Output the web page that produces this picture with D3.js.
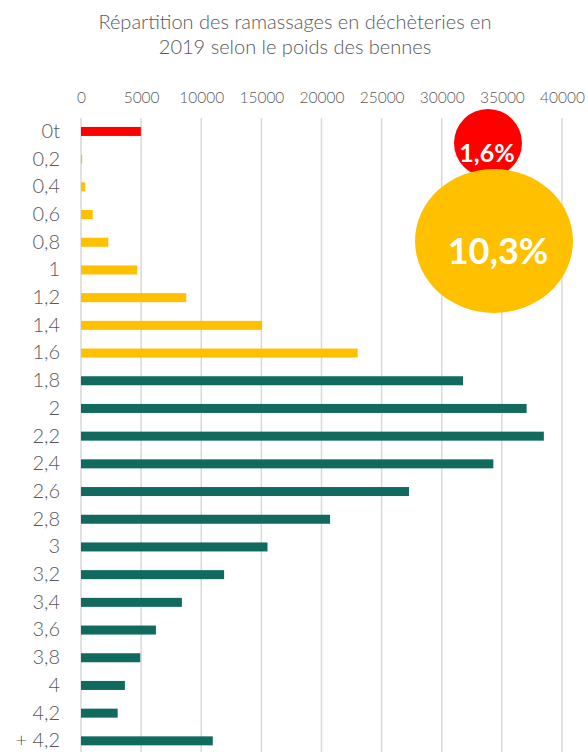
<!DOCTYPE html>
<html>
<head>
<meta charset="utf-8">
<script src="https://cdn.jsdelivr.net/npm/d3@7"></script>
<style>
  html, body { margin: 0; padding: 0; background: #fff; }
  svg { display: block; }
  text { font-family: 'Lato', 'Noto Sans', sans-serif; }
</style>
</head>
<body>
<div id="chart"></div>
<script>
// --- Data ---
const categories = ['0t', '0,2', '0,4', '0,6', '0,8', '1', '1,2', '1,4', '1,6', '1,8', '2', '2,2',
    '2,4', '2,6', '2,8', '3', '3,2', '3,4', '3,6', '3,8', '4', '4,2', '+ 4,2'];
const values = [4980, 100, 360, 970, 2270, 4680, 8750, 15060, 23010, 31770, 37060, 38490,
    34290, 27280, 20710, 15510, 11900, 8390, 6230, 4930, 3650, 3050, 10960];
// colour group per category: empty (0t), light (0,2 to 1,6), normal
const groups = ['vide', 'leger', 'leger', 'leger', 'leger', 'leger', 'leger', 'leger', 'leger',
    'normal', 'normal', 'normal', 'normal', 'normal', 'normal', 'normal', 'normal', 'normal',
    'normal', 'normal', 'normal', 'normal', 'normal'];
const xTicks = [0, 5000, 10000, 15000, 20000, 25000, 30000, 35000, 40000];
const shareLabels = ['1,6%', '10,3%'];
const titleLines = ['Répartition des ramassages en déchèteries en', '2019 selon le poids des bennes'];

const colors = { vide: '#FF0000', leger: '#FFC000', normal: '#116A5E' };
const textColor = '#595959';

const W = 588, H = 752;
const svg = d3.select('#chart').append('svg').attr('width', W).attr('height', H);

// --- Scales ---
const x = d3.scaleLinear().domain([0, 40000]).range([81, 562]);
const y = d3.scaleBand().domain(categories)
    .range([117.6, 754.7])
    .paddingInner(0.675).paddingOuter(0.3375);

// Title
svg.selectAll('text.title').data(titleLines).enter().append('text')
    .attr('class', 'title')
    .attr('x', 295).attr('y', (d, i) => 29 + i * 24.5)
    .attr('text-anchor', 'middle')
    .style('font-size', '20px').style('font-weight', 300)
    .style('fill', textColor)
    .text(d => d);

// Gridlines
svg.append('g').selectAll('line').data(xTicks).enter().append('line')
    .attr('x1', d => x(d)).attr('x2', d => x(d))
    .attr('y1', 118).attr('y2', H)
    .attr('stroke', '#D9D9D9').attr('stroke-width', 1.5);

// Top axis labels
const xAxis = d3.axisTop(x).tickValues(xTicks).tickSize(0).tickPadding(0)
    .tickFormat(d3.format('d'));
const gx = svg.append('g').attr('transform', 'translate(0,103)').call(xAxis);
gx.select('.domain').remove();
gx.selectAll('text').style('font-size', '15.5px').style('font-weight', 300).style('fill', textColor)
    .style('font-family', "'Lato', 'Noto Sans', sans-serif");

// Left axis labels
const yAxis = d3.axisLeft(y).tickSize(0).tickPadding(0);
const gy = svg.append('g').attr('transform', 'translate(60,0)').call(yAxis);
gy.select('.domain').remove();
gy.selectAll('text').style('font-size', '20px').style('font-weight', 300).style('fill', textColor)
    .style('font-family', "'Lato', 'Noto Sans', sans-serif");

// Bars
svg.append('g').selectAll('rect').data(values).enter().append('rect')
    .attr('x', x(0))
    .attr('y', (d, i) => y(categories[i]))
    .attr('width', d => x(d) - x(0))
    .attr('height', y.bandwidth())
    .attr('fill', (d, i) => colors[groups[i]]);

// Share bubbles (annotations)
const bubbles = svg.append('g');
bubbles.append('circle').attr('cx', 488).attr('cy', 143).attr('r', 34)
    .attr('fill', colors.vide);
bubbles.append('ellipse').attr('cx', 494).attr('cy', 241).attr('rx', 79).attr('ry', 72)
    .attr('fill', colors.leger);
bubbles.append('text').attr('x', 487).attr('y', 162)
    .attr('text-anchor', 'middle')
    .style('font-size', '25px').style('font-weight', 700).style('fill', '#fff')
    .text(shareLabels[0]);
bubbles.append('text').attr('x', 498).attr('y', 264)
    .attr('text-anchor', 'middle')
    .style('font-size', '36px').style('font-weight', 700).style('fill', '#fff')
    .text(shareLabels[1]);
</script>
</body>
</html>
